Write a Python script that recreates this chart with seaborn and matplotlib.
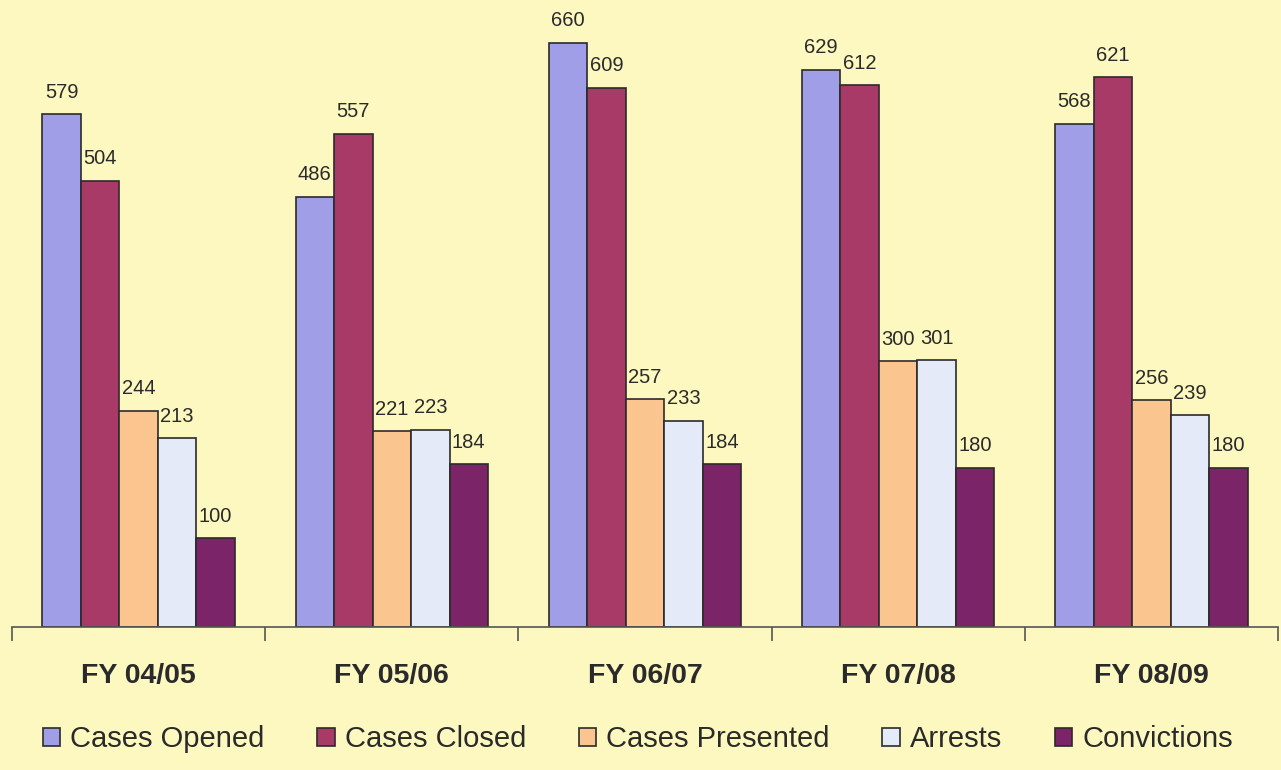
import pandas as pd
import numpy as np
import matplotlib
matplotlib.use("Agg")
import matplotlib.pyplot as plt
import seaborn as sns

years = ["FY 04/05", "FY 05/06", "FY 06/07", "FY 07/08", "FY 08/09"]
series = ["Cases Opened", "Cases Closed", "Cases Presented", "Arrests", "Convictions"]
cases_opened = [579, 486, 660, 629, 568]
cases_closed = [504, 557, 609, 612, 621]
cases_presented = [244, 221, 257, 300, 256]
arrests = [213, 223, 233, 301, 239]
convictions = [100, 184, 184, 180, 180]
colors = ["#A09EE6", "#A83A68", "#FAC58E", "#E4EAF8", "#7B2468"]

values = [cases_opened, cases_closed, cases_presented, arrests, convictions]
rows = []
for s, vals in zip(series, values):
    for y, v in zip(years, vals):
        rows.append({"year": y, "series": s, "value": v})
df = pd.DataFrame(rows)

sns.set_style("white")
plt.rcParams['font.family'] = ['Liberation Sans', 'DejaVu Sans']
bg = "#FCF8C0"
txt = "#2A2A2A"

fig = plt.figure(figsize=(12.81, 7.7), dpi=100, facecolor=bg)
ax = fig.add_axes([12 / 1281, 143 / 770, 1266 / 1281, 627 / 770])
ax.set_facecolor(bg)

sns.barplot(data=df, x="year", y="value", hue="series", hue_order=series,
            order=years, palette=colors, width=0.76, gap=0,
            edgecolor="#2B2B2B", linewidth=1.2, saturation=1, ax=ax, legend=True)

for cont in ax.containers:
    ax.bar_label(cont, fmt="%d", padding=9, fontsize=14.5, color=txt)

ax.set_ylim(0, 708)
ax.set_xlim(-0.5, 4.5)
ax.set_xlabel("")
ax.set_ylabel("")
ax.set_yticks([])
for side in ["left", "right", "top"]:
    ax.spines[side].set_visible(False)
ax.spines["bottom"].set_color("#555555")
ax.spines["bottom"].set_linewidth(1.2)
ax.tick_params(axis="x", which="major", bottom=False, length=0, pad=26,
               labelsize=20.5, labelcolor=txt)
for lab in ax.get_xticklabels():
    lab.set_fontweight("bold")
ax.set_xticks(np.arange(-0.5, 5, 1), minor=True)
ax.tick_params(axis="x", which="minor", bottom=True, length=10, width=1.2,
               color="#555555", direction="out")

handles, labels = ax.get_legend_handles_labels()
ax.get_legend().remove()
fig.legend(handles, labels, loc="center", bbox_to_anchor=(0.498, 0.04), ncol=5,
           frameon=False, fontsize=21, handlelength=0.6, handleheight=0.6,
           handletextpad=0.35, columnspacing=1.8, labelcolor=txt)

fig.savefig("out.png", dpi=100, facecolor=bg)
